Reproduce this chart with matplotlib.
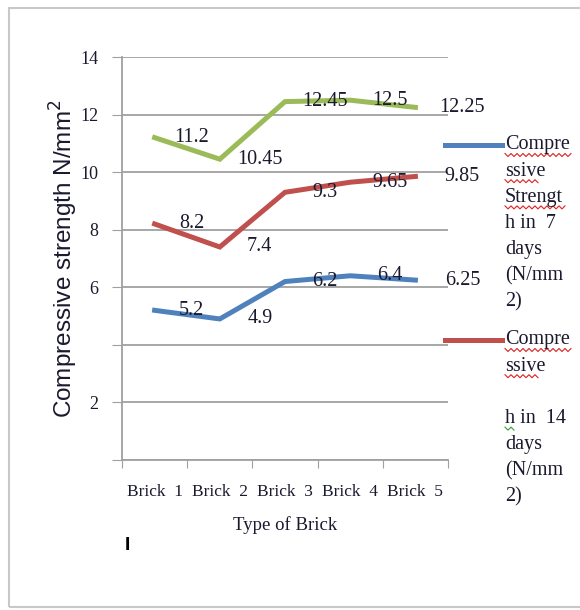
import matplotlib.pyplot as plt
from matplotlib.patches import Rectangle
from matplotlib.lines import Line2D

bricks = ['Brick  1', 'Brick  2', 'Brick  3', 'Brick  4', 'Brick  5']
days_7 = [5.2, 4.9, 6.2, 6.4, 6.25]
days_14 = [8.2, 7.4, 9.3, 9.65, 9.85]
days_28 = [11.2, 10.45, 12.45, 12.5, 12.25]

y_ticks = [0, 2, 4, 6, 8, 10, 12, 14]
y_tick_labels = ['', '2', '', '6', '8', '10', '12', '14']

BLUE = '#4F81BD'
RED = '#C0504D'
GREEN = '#9BBB59'
GRID = '#A0A0A0'
TXT = '#1a1a2e'

plt.rcParams['font.family'] = ['Liberation Serif', 'DejaVu Serif']

fig = plt.figure(figsize=(5.8, 6.1), dpi=100)
fig.patches.append(Rectangle((9 / 580, 3 / 610), 1.2, 599 / 610, transform=fig.transFigure,
                             fill=False, edgecolor='#C8C8C8', linewidth=1.5))

ax = fig.add_axes([122 / 580, 1 - 460 / 610, 326 / 580, 403 / 610])
x = list(range(len(bricks)))

for vals, col in [(days_7, BLUE), (days_14, RED), (days_28, GREEN)]:
    ax.plot(x, vals, color=col, linewidth=3.6, solid_joinstyle='miter')

# data labels sit to the right of each point, like the original export
offsets = [37, 40, 40, 40, 47]
for vals in (days_7, days_14, days_28):
    for i, v in enumerate(vals):
        ax.annotate(f'{v:g}', (x[i], v), xytext=(offsets[i], 0), textcoords='offset pixels',
                    ha='center', va='center', fontsize=14.5, color=TXT)

ax.set_xlim(-0.5, 4.5)
ax.set_ylim(0, 14)
ax.set_yticks(y_ticks)
ax.set_yticklabels(y_tick_labels, fontsize=13, color=TXT)
ax.set_xticks([i - 0.5 for i in range(6)])
ax.set_xticklabels([])
ax.set_xticks(x, minor=True)
ax.set_xticklabels(bricks, minor=True, fontsize=12.5, color=TXT)
ax.tick_params(axis='x', which='minor', length=0, pad=17)
ax.tick_params(axis='x', which='major', length=6, color=GRID, direction='out')
ax.tick_params(axis='y', length=7, color=GRID, direction='out', pad=10)

ax.grid(axis='y', color=GRID, linewidth=1.3)
ax.set_axisbelow(True)
for side in ('top', 'right'):
    ax.spines[side].set_visible(False)
for side in ('left', 'bottom'):
    ax.spines[side].set_color(GRID)
    ax.spines[side].set_linewidth(1.3)

ax.set_xlabel('Type of Brick', fontsize=13.5, color=TXT, labelpad=12)
ax.set_ylabel('Compressive strength N/mm$^2$', fontsize=17.5, color=TXT,
              family='Liberation Sans', labelpad=0)

fig.text(127 / 580, 1 - 546 / 610, 'I', fontsize=14, fontweight='bold', ha='center', va='center',
         family='Liberation Sans')


def squiggle(x0, x1, y, col):
    # spell-check underline from the source document
    xs, ys = [], []
    k = 0
    px = x0
    while px <= x1:
        xs.append(px / 580)
        ys.append(1 - (y + (1.5 if k % 2 else -1.5)) / 610)
        px += 3
        k += 1
    fig.add_artist(Line2D(xs, ys, color=col, linewidth=0.8, transform=fig.transFigure))


# legend drawn by hand, text wrapped as in the source
legend_items = [
    (BLUE, 145, ['Compre', 'ssive', 'Strengt', 'h in  7', 'days', '(N/mm', '2)'], [0, 1, 2]),
    (RED, 340, ['Compre', 'ssive', '', 'h in  14', 'days', '(N/mm', '2)'], [0, 1]),
]
widths = {'Compre': 68, 'ssive': 34, 'Strengt': 62}
for col, y0, lines, marked in legend_items:
    fig.add_artist(Line2D([445 / 580, 502 / 580], [1 - y0 / 610] * 2, color=col,
                          linewidth=3.6, transform=fig.transFigure))
    for k, t in enumerate(lines):
        fig.text(505 / 580, 1 - (y0 + 26.2 * k) / 610, t, fontsize=14.5, color=TXT,
                 ha='left', va='center')
        if k in marked:
            squiggle(505, 505 + widths[t], y0 + 26.2 * k + 10, '#E02020')
squiggle(505, 514, 340 + 26.2 * 3 + 10, '#30A030')

fig.savefig('out.png', dpi=100)
